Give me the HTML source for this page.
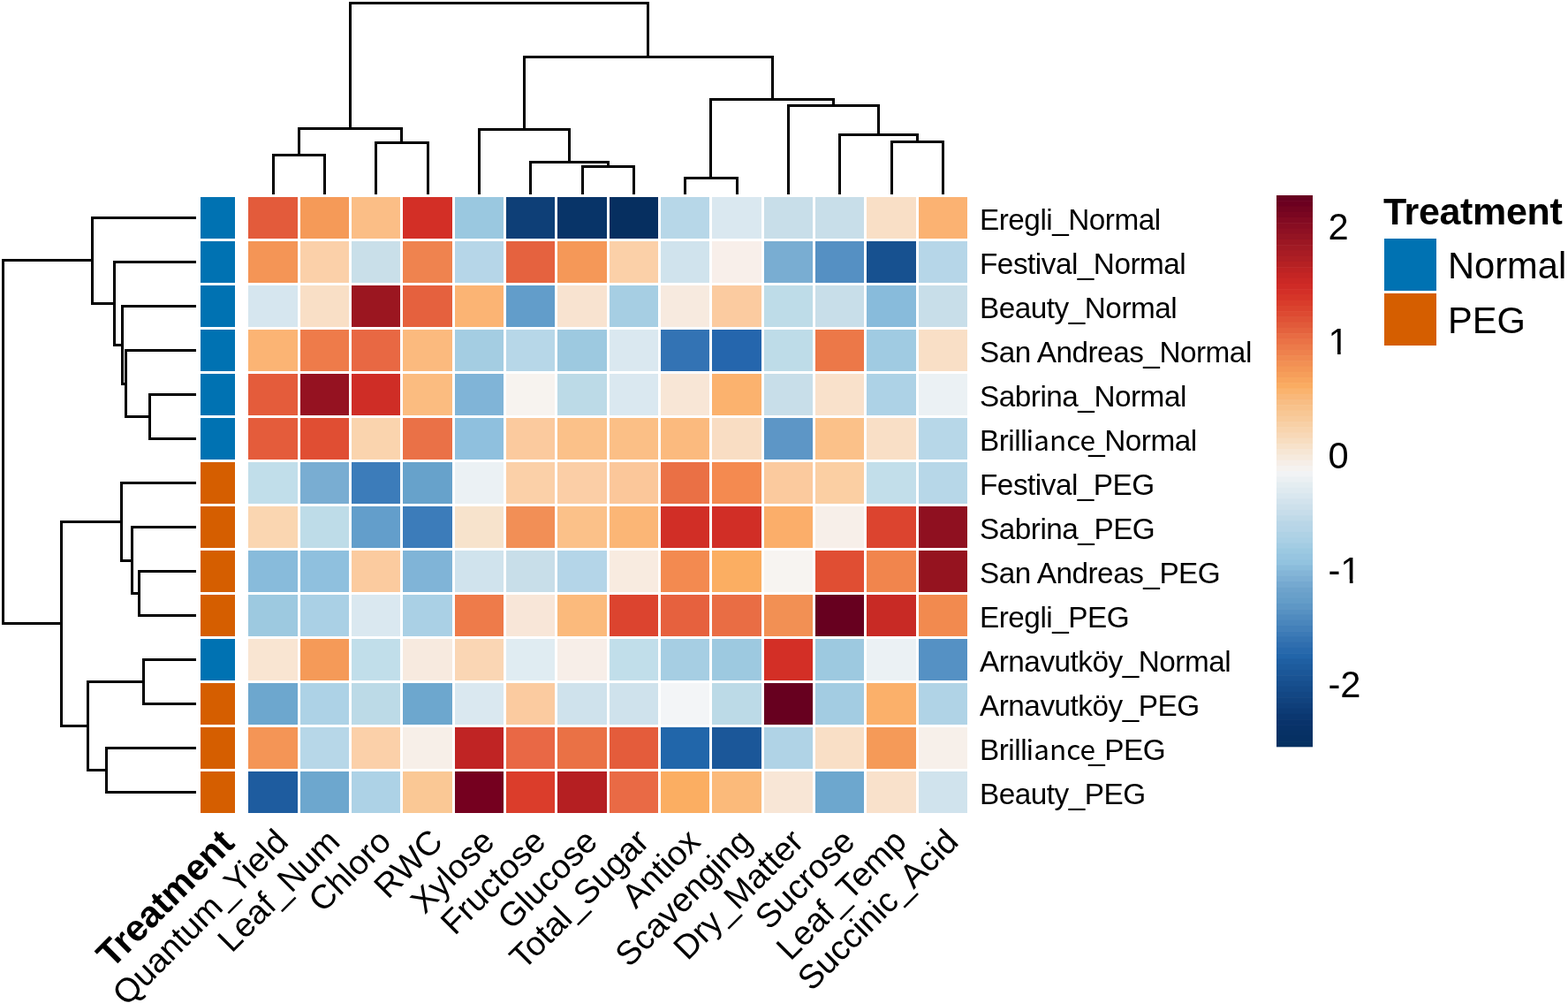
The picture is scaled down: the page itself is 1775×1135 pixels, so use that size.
<!DOCTYPE html><html><head><meta charset="utf-8"><title>heatmap</title><style>html,body{margin:0;padding:0;background:#fff;overflow:hidden;}svg{display:block;}</style></head><body>
<svg width="1775" height="1135" viewBox="0 0 1775 1135">
<rect width="1775" height="1135" fill="#fff"/>
<g shape-rendering="crispEdges">
<rect x="281" y="223" width="56" height="47" fill="#E35B3B"/>
<rect x="340" y="223" width="55" height="47" fill="#F59A58"/>
<rect x="398" y="223" width="55" height="47" fill="#FBBE86"/>
<rect x="456" y="223" width="56" height="47" fill="#D32F26"/>
<rect x="515" y="223" width="55" height="47" fill="#9AC8E0"/>
<rect x="573" y="223" width="55" height="47" fill="#0E3F77"/>
<rect x="631" y="223" width="56" height="47" fill="#083468"/>
<rect x="690" y="223" width="55" height="47" fill="#062F60"/>
<rect x="748" y="223" width="55" height="47" fill="#B7D7E8"/>
<rect x="806" y="223" width="56" height="47" fill="#DAE8F0"/>
<rect x="865" y="223" width="55" height="47" fill="#C8DEE9"/>
<rect x="923" y="223" width="55" height="47" fill="#C8DEE9"/>
<rect x="981" y="223" width="56" height="47" fill="#F9DFC6"/>
<rect x="1040" y="223" width="55" height="47" fill="#FBB272"/>
<rect x="281" y="273" width="56" height="47" fill="#F49556"/>
<rect x="340" y="273" width="55" height="47" fill="#FBD0A9"/>
<rect x="398" y="273" width="55" height="47" fill="#C9DFE9"/>
<rect x="456" y="273" width="56" height="47" fill="#EF834F"/>
<rect x="515" y="273" width="55" height="47" fill="#B6D6E8"/>
<rect x="573" y="273" width="55" height="47" fill="#E5623F"/>
<rect x="631" y="273" width="56" height="47" fill="#F59858"/>
<rect x="690" y="273" width="55" height="47" fill="#FBD0A8"/>
<rect x="748" y="273" width="55" height="47" fill="#D0E3ED"/>
<rect x="806" y="273" width="56" height="47" fill="#F8EFEA"/>
<rect x="865" y="273" width="55" height="47" fill="#79ADD2"/>
<rect x="923" y="273" width="55" height="47" fill="#5590C3"/>
<rect x="981" y="273" width="56" height="47" fill="#175190"/>
<rect x="1040" y="273" width="55" height="47" fill="#B6D6E8"/>
<rect x="281" y="323" width="56" height="47" fill="#D6E6EF"/>
<rect x="340" y="323" width="55" height="47" fill="#F9DFC6"/>
<rect x="398" y="323" width="55" height="47" fill="#9B1620"/>
<rect x="456" y="323" width="56" height="47" fill="#E5613E"/>
<rect x="515" y="323" width="55" height="47" fill="#FBB474"/>
<rect x="573" y="323" width="55" height="47" fill="#629DCA"/>
<rect x="631" y="323" width="56" height="47" fill="#F8E3D0"/>
<rect x="690" y="323" width="55" height="47" fill="#A6CEE3"/>
<rect x="748" y="323" width="55" height="47" fill="#F7EADF"/>
<rect x="806" y="323" width="56" height="47" fill="#FBCBA0"/>
<rect x="865" y="323" width="55" height="47" fill="#BEDCE8"/>
<rect x="923" y="323" width="55" height="47" fill="#C8DEE9"/>
<rect x="981" y="323" width="56" height="47" fill="#88BBDB"/>
<rect x="1040" y="323" width="55" height="47" fill="#C8DEE9"/>
<rect x="281" y="373" width="56" height="47" fill="#FBB474"/>
<rect x="340" y="373" width="55" height="47" fill="#EE7B4A"/>
<rect x="398" y="373" width="55" height="47" fill="#E86843"/>
<rect x="456" y="373" width="56" height="47" fill="#FBBA7E"/>
<rect x="515" y="373" width="55" height="47" fill="#A4CDE2"/>
<rect x="573" y="373" width="55" height="47" fill="#B7D7E8"/>
<rect x="631" y="373" width="56" height="47" fill="#9DC9E0"/>
<rect x="690" y="373" width="55" height="47" fill="#DAE8F0"/>
<rect x="748" y="373" width="55" height="47" fill="#3373B4"/>
<rect x="806" y="373" width="56" height="47" fill="#2566AD"/>
<rect x="865" y="373" width="55" height="47" fill="#BEDCE8"/>
<rect x="923" y="373" width="55" height="47" fill="#EC7848"/>
<rect x="981" y="373" width="56" height="47" fill="#A0CBE2"/>
<rect x="1040" y="373" width="55" height="47" fill="#F9DFC6"/>
<rect x="281" y="423" width="56" height="47" fill="#E45C3B"/>
<rect x="340" y="423" width="55" height="47" fill="#951221"/>
<rect x="398" y="423" width="55" height="47" fill="#CF2D26"/>
<rect x="456" y="423" width="56" height="47" fill="#FBBC80"/>
<rect x="515" y="423" width="55" height="47" fill="#80B4D7"/>
<rect x="573" y="423" width="55" height="47" fill="#F7F3EF"/>
<rect x="631" y="423" width="56" height="47" fill="#BCDAE7"/>
<rect x="690" y="423" width="55" height="47" fill="#DAE8F0"/>
<rect x="748" y="423" width="55" height="47" fill="#F8E6D6"/>
<rect x="806" y="423" width="56" height="47" fill="#FBB26E"/>
<rect x="865" y="423" width="55" height="47" fill="#C8DEE9"/>
<rect x="923" y="423" width="55" height="47" fill="#F9E1CB"/>
<rect x="981" y="423" width="56" height="47" fill="#ADD2E6"/>
<rect x="1040" y="423" width="55" height="47" fill="#EBF1F4"/>
<rect x="281" y="473" width="56" height="47" fill="#E45C3B"/>
<rect x="340" y="473" width="55" height="47" fill="#E04E33"/>
<rect x="398" y="473" width="55" height="47" fill="#FAD4AE"/>
<rect x="456" y="473" width="56" height="47" fill="#EA7147"/>
<rect x="515" y="473" width="55" height="47" fill="#8FC0DE"/>
<rect x="573" y="473" width="55" height="47" fill="#FBCA9E"/>
<rect x="631" y="473" width="56" height="47" fill="#FBC189"/>
<rect x="690" y="473" width="55" height="47" fill="#FBBF86"/>
<rect x="748" y="473" width="55" height="47" fill="#FBBA7E"/>
<rect x="806" y="473" width="56" height="47" fill="#F9DDC3"/>
<rect x="865" y="473" width="55" height="47" fill="#5D96C6"/>
<rect x="923" y="473" width="55" height="47" fill="#FBC189"/>
<rect x="981" y="473" width="56" height="47" fill="#F9DFC6"/>
<rect x="1040" y="473" width="55" height="47" fill="#B7D7E8"/>
<rect x="281" y="523" width="56" height="47" fill="#C1DEEA"/>
<rect x="340" y="523" width="55" height="47" fill="#79ADD2"/>
<rect x="398" y="523" width="55" height="47" fill="#3C7CBA"/>
<rect x="456" y="523" width="56" height="47" fill="#67A2CB"/>
<rect x="515" y="523" width="55" height="47" fill="#EBF1F4"/>
<rect x="573" y="523" width="55" height="47" fill="#FBD0A8"/>
<rect x="631" y="523" width="56" height="47" fill="#FBCEA6"/>
<rect x="690" y="523" width="55" height="47" fill="#FBC79A"/>
<rect x="748" y="523" width="55" height="47" fill="#EA7045"/>
<rect x="806" y="523" width="56" height="47" fill="#F48A50"/>
<rect x="865" y="523" width="55" height="47" fill="#FBCA9E"/>
<rect x="923" y="523" width="55" height="47" fill="#FBCFA3"/>
<rect x="981" y="523" width="56" height="47" fill="#C2DEEA"/>
<rect x="1040" y="523" width="55" height="47" fill="#B7D7E8"/>
<rect x="281" y="573" width="56" height="47" fill="#FAD6B1"/>
<rect x="340" y="573" width="55" height="47" fill="#BEDCE8"/>
<rect x="398" y="573" width="55" height="47" fill="#639ECB"/>
<rect x="456" y="573" width="56" height="47" fill="#3C7CBA"/>
<rect x="515" y="573" width="55" height="47" fill="#F7E3CC"/>
<rect x="573" y="573" width="55" height="47" fill="#F28F56"/>
<rect x="631" y="573" width="56" height="47" fill="#FBC189"/>
<rect x="690" y="573" width="55" height="47" fill="#FBB676"/>
<rect x="748" y="573" width="55" height="47" fill="#D12E26"/>
<rect x="806" y="573" width="56" height="47" fill="#D12E26"/>
<rect x="865" y="573" width="55" height="47" fill="#FBAE6A"/>
<rect x="923" y="573" width="55" height="47" fill="#F7EFE9"/>
<rect x="981" y="573" width="56" height="47" fill="#DC442F"/>
<rect x="1040" y="573" width="55" height="47" fill="#8F1020"/>
<rect x="281" y="623" width="56" height="47" fill="#88BBDB"/>
<rect x="340" y="623" width="55" height="47" fill="#8FC0DE"/>
<rect x="398" y="623" width="55" height="47" fill="#FBCB9F"/>
<rect x="456" y="623" width="56" height="47" fill="#80B4D7"/>
<rect x="515" y="623" width="55" height="47" fill="#D0E3ED"/>
<rect x="573" y="623" width="55" height="47" fill="#C8DEE9"/>
<rect x="631" y="623" width="56" height="47" fill="#B4D5E8"/>
<rect x="690" y="623" width="55" height="47" fill="#F8EBE0"/>
<rect x="748" y="623" width="55" height="47" fill="#F38A50"/>
<rect x="806" y="623" width="56" height="47" fill="#FBAE62"/>
<rect x="865" y="623" width="55" height="47" fill="#F7F4F1"/>
<rect x="923" y="623" width="55" height="47" fill="#E04E33"/>
<rect x="981" y="623" width="56" height="47" fill="#F1854D"/>
<rect x="1040" y="623" width="55" height="47" fill="#95131F"/>
<rect x="281" y="673" width="56" height="47" fill="#9DC9E0"/>
<rect x="340" y="673" width="55" height="47" fill="#AAD0E5"/>
<rect x="398" y="673" width="55" height="47" fill="#DAE8F0"/>
<rect x="456" y="673" width="56" height="47" fill="#AAD0E5"/>
<rect x="515" y="673" width="55" height="47" fill="#EE7B4A"/>
<rect x="573" y="673" width="55" height="47" fill="#F8E6D8"/>
<rect x="631" y="673" width="56" height="47" fill="#FBBA7C"/>
<rect x="690" y="673" width="55" height="47" fill="#DC442F"/>
<rect x="748" y="673" width="55" height="47" fill="#E6613E"/>
<rect x="806" y="673" width="56" height="47" fill="#E96D44"/>
<rect x="865" y="673" width="55" height="47" fill="#F29054"/>
<rect x="923" y="673" width="55" height="47" fill="#67001F"/>
<rect x="981" y="673" width="56" height="47" fill="#C82A25"/>
<rect x="1040" y="673" width="55" height="47" fill="#F28A4F"/>
<rect x="281" y="723" width="56" height="47" fill="#F9E5D2"/>
<rect x="340" y="723" width="55" height="47" fill="#F59A58"/>
<rect x="398" y="723" width="55" height="47" fill="#C1DEEA"/>
<rect x="456" y="723" width="56" height="47" fill="#F7EADF"/>
<rect x="515" y="723" width="55" height="47" fill="#FAD6B4"/>
<rect x="573" y="723" width="55" height="47" fill="#E0ECF2"/>
<rect x="631" y="723" width="56" height="47" fill="#F7EEE8"/>
<rect x="690" y="723" width="55" height="47" fill="#C1DEEA"/>
<rect x="748" y="723" width="55" height="47" fill="#A6CEE3"/>
<rect x="806" y="723" width="56" height="47" fill="#9DC9E0"/>
<rect x="865" y="723" width="55" height="47" fill="#D32F26"/>
<rect x="923" y="723" width="55" height="47" fill="#9DC9E0"/>
<rect x="981" y="723" width="56" height="47" fill="#EBF1F4"/>
<rect x="1040" y="723" width="55" height="47" fill="#5591C4"/>
<rect x="281" y="773" width="56" height="47" fill="#6DA7CE"/>
<rect x="340" y="773" width="55" height="47" fill="#ADD2E6"/>
<rect x="398" y="773" width="55" height="47" fill="#BCDAE7"/>
<rect x="456" y="773" width="56" height="47" fill="#6DA7CE"/>
<rect x="515" y="773" width="55" height="47" fill="#DAE8F0"/>
<rect x="573" y="773" width="55" height="47" fill="#FBCBA0"/>
<rect x="631" y="773" width="56" height="47" fill="#CFE2EC"/>
<rect x="690" y="773" width="55" height="47" fill="#CFE2EC"/>
<rect x="748" y="773" width="55" height="47" fill="#F3F5F7"/>
<rect x="806" y="773" width="56" height="47" fill="#BCDAE7"/>
<rect x="865" y="773" width="55" height="47" fill="#67001F"/>
<rect x="923" y="773" width="55" height="47" fill="#A3CCE2"/>
<rect x="981" y="773" width="56" height="47" fill="#FBB06A"/>
<rect x="1040" y="773" width="55" height="47" fill="#B0D3E6"/>
<rect x="281" y="823" width="56" height="47" fill="#F49556"/>
<rect x="340" y="823" width="55" height="47" fill="#B7D7E8"/>
<rect x="398" y="823" width="55" height="47" fill="#FBD0A9"/>
<rect x="456" y="823" width="56" height="47" fill="#F7EFE8"/>
<rect x="515" y="823" width="55" height="47" fill="#C02424"/>
<rect x="573" y="823" width="55" height="47" fill="#E96845"/>
<rect x="631" y="823" width="56" height="47" fill="#EA7145"/>
<rect x="690" y="823" width="55" height="47" fill="#E45C3B"/>
<rect x="748" y="823" width="55" height="47" fill="#2166AA"/>
<rect x="806" y="823" width="56" height="47" fill="#1B5799"/>
<rect x="865" y="823" width="55" height="47" fill="#B0D3E6"/>
<rect x="923" y="823" width="55" height="47" fill="#F9DFC6"/>
<rect x="981" y="823" width="56" height="47" fill="#F59A58"/>
<rect x="1040" y="823" width="55" height="47" fill="#F7F0EA"/>
<rect x="281" y="873" width="56" height="47" fill="#1E5C9F"/>
<rect x="340" y="873" width="55" height="47" fill="#6DA7CE"/>
<rect x="398" y="873" width="55" height="47" fill="#ADD2E6"/>
<rect x="456" y="873" width="56" height="47" fill="#FAC895"/>
<rect x="515" y="873" width="55" height="47" fill="#75001F"/>
<rect x="573" y="873" width="55" height="47" fill="#DB3D2B"/>
<rect x="631" y="873" width="56" height="47" fill="#B51F22"/>
<rect x="690" y="873" width="55" height="47" fill="#E96A45"/>
<rect x="748" y="873" width="55" height="47" fill="#FBAE62"/>
<rect x="806" y="873" width="56" height="47" fill="#FBBA7A"/>
<rect x="865" y="873" width="55" height="47" fill="#F8E6D6"/>
<rect x="923" y="873" width="55" height="47" fill="#6DA7CE"/>
<rect x="981" y="873" width="56" height="47" fill="#F9E1CB"/>
<rect x="1040" y="873" width="55" height="47" fill="#D0E3ED"/>
<rect x="227" y="223" width="39" height="47" fill="#0072B2"/>
<rect x="227" y="273" width="39" height="47" fill="#0072B2"/>
<rect x="227" y="323" width="39" height="47" fill="#0072B2"/>
<rect x="227" y="373" width="39" height="47" fill="#0072B2"/>
<rect x="227" y="423" width="39" height="47" fill="#0072B2"/>
<rect x="227" y="473" width="39" height="47" fill="#0072B2"/>
<rect x="227" y="523" width="39" height="47" fill="#D55E00"/>
<rect x="227" y="573" width="39" height="47" fill="#D55E00"/>
<rect x="227" y="623" width="39" height="47" fill="#D55E00"/>
<rect x="227" y="673" width="39" height="47" fill="#D55E00"/>
<rect x="227" y="723" width="39" height="47" fill="#0072B2"/>
<rect x="227" y="773" width="39" height="47" fill="#D55E00"/>
<rect x="227" y="823" width="39" height="47" fill="#D55E00"/>
<rect x="227" y="873" width="39" height="47" fill="#D55E00"/>
</g>
<path d="M309.5,220V175.5H367.5V220 M425.5,220V161.5H484.5V220 M338.5,175.5V145.5H454.5V161.5 M659.5,220V188.5H717.5V220 M600.5,220V183.5H688.5V188.5 M542.5,220V146.5H644.5V183.5 M775.5,220V201.5H834.5V220 M1009.5,220V160.5H1067.5V220 M950.5,220V152.5H1038.5V160.5 M892.5,220V119.5H994.5V152.5 M804.5,201.5V112.5H943.5V119.5 M593.5,146.5V64.5H874.5V112.5 M396.5,145.5V3.5H733.5V64.5 M222.0,446.5H169.5V496.5H222.0 M222.0,396.5H142.5V471.5H169.5 M222.0,346.5H138.5V434.5H142.5 M222.0,296.5H129.5V390.5H138.5 M222.0,246.5H104.5V343.5H129.5 M222.0,646.5H157.5V696.5H222.0 M222.0,596.5H149.5V671.5H157.5 M222.0,546.5H137.5V634.5H149.5 M222.0,746.5H162.5V796.5H222.0 M222.0,846.5H120.5V896.5H222.0 M162.5,771.5H99.5V871.5H120.5 M137.5,590.5H69.5V821.5H99.5 M104.5,294.5H3.5V705.5H69.5" fill="none" stroke="#000" stroke-width="3" stroke-linejoin="miter" stroke-linecap="butt" shape-rendering="crispEdges"/>
<text x="1109" y="260.05" font-family="Liberation Sans, Arial, sans-serif" font-size="33.33" letter-spacing="-0.5">Eregli_Normal</text>
<text x="1109" y="310.05" font-family="Liberation Sans, Arial, sans-serif" font-size="33.33" letter-spacing="-0.5">Festival_Normal</text>
<text x="1109" y="360.05" font-family="Liberation Sans, Arial, sans-serif" font-size="33.33" letter-spacing="-0.5">Beauty_Normal</text>
<text x="1109" y="410.05" font-family="Liberation Sans, Arial, sans-serif" font-size="33.33" letter-spacing="-0.5">San Andreas_Normal</text>
<text x="1109" y="460.05" font-family="Liberation Sans, Arial, sans-serif" font-size="33.33" letter-spacing="-0.5">Sabrina_Normal</text>
<text x="1109" y="510.05" font-family="Liberation Sans, Arial, sans-serif" font-size="33.33" letter-spacing="-0.5">Brill<tspan x="1161.6" font-family="Noto Sans CJK JP, sans-serif" font-size="31.5" letter-spacing="0">iance</tspan><tspan x="1232.2">_Normal</tspan></text>
<text x="1109" y="560.05" font-family="Liberation Sans, Arial, sans-serif" font-size="33.33" letter-spacing="-0.5">Festival_PEG</text>
<text x="1109" y="610.05" font-family="Liberation Sans, Arial, sans-serif" font-size="33.33" letter-spacing="-0.5">Sabrina_PEG</text>
<text x="1109" y="660.05" font-family="Liberation Sans, Arial, sans-serif" font-size="33.33" letter-spacing="-0.5">San Andreas_PEG</text>
<text x="1109" y="710.05" font-family="Liberation Sans, Arial, sans-serif" font-size="33.33" letter-spacing="-0.5">Eregli_PEG</text>
<text x="1109" y="760.05" font-family="Liberation Sans, Arial, sans-serif" font-size="33.33" letter-spacing="-0.5">Arnavutköy_Normal</text>
<text x="1109" y="810.05" font-family="Liberation Sans, Arial, sans-serif" font-size="33.33" letter-spacing="-0.5">Arnavutköy_PEG</text>
<text x="1109" y="860.05" font-family="Liberation Sans, Arial, sans-serif" font-size="33.33" letter-spacing="-0.5">Brill<tspan x="1161.6" font-family="Noto Sans CJK JP, sans-serif" font-size="31.5" letter-spacing="0">iance</tspan><tspan x="1232.2">_PEG</tspan></text>
<text x="1109" y="910.05" font-family="Liberation Sans, Arial, sans-serif" font-size="33.33" letter-spacing="-0.5">Beauty_PEG</text>
<text transform="translate(246.28,935.20) rotate(-45)" x="0" y="29.84" text-anchor="end" font-family="Liberation Sans, Arial, sans-serif" font-size="41.67" font-weight="bold" letter-spacing="0">Treatment</text>
<text transform="translate(309.00,935.20) rotate(-45)" x="0" y="27.35" text-anchor="end" font-family="Liberation Sans, Arial, sans-serif" font-size="38.2" letter-spacing="0">Quantum_Yield</text>
<text transform="translate(367.50,935.20) rotate(-45)" x="0" y="27.35" text-anchor="end" font-family="Liberation Sans, Arial, sans-serif" font-size="38.2" letter-spacing="0">Leaf_Num</text>
<text transform="translate(425.50,935.20) rotate(-45)" x="0" y="27.35" text-anchor="end" font-family="Liberation Sans, Arial, sans-serif" font-size="38.2" letter-spacing="0">Chloro</text>
<text transform="translate(484.00,935.20) rotate(-45)" x="0" y="27.35" text-anchor="end" font-family="Liberation Sans, Arial, sans-serif" font-size="38.2" letter-spacing="0">RWC</text>
<text transform="translate(542.50,935.20) rotate(-45)" x="0" y="27.35" text-anchor="end" font-family="Liberation Sans, Arial, sans-serif" font-size="38.2" letter-spacing="0">Xylose</text>
<text transform="translate(600.50,935.20) rotate(-45)" x="0" y="27.35" text-anchor="end" font-family="Liberation Sans, Arial, sans-serif" font-size="38.2" letter-spacing="0">Fructose</text>
<text transform="translate(659.00,935.20) rotate(-45)" x="0" y="27.35" text-anchor="end" font-family="Liberation Sans, Arial, sans-serif" font-size="38.2" letter-spacing="0">Glucose</text>
<text transform="translate(717.50,935.20) rotate(-45)" x="0" y="27.35" text-anchor="end" font-family="Liberation Sans, Arial, sans-serif" font-size="38.2" letter-spacing="0">Total_Sugar</text>
<text transform="translate(775.50,935.20) rotate(-45)" x="0" y="27.35" text-anchor="end" font-family="Liberation Sans, Arial, sans-serif" font-size="38.2" letter-spacing="0">Antiox</text>
<text transform="translate(834.00,935.20) rotate(-45)" x="0" y="27.35" text-anchor="end" font-family="Liberation Sans, Arial, sans-serif" font-size="38.2" letter-spacing="0">Scavenging</text>
<text transform="translate(892.50,935.20) rotate(-45)" x="0" y="27.35" text-anchor="end" font-family="Liberation Sans, Arial, sans-serif" font-size="38.2" letter-spacing="0">Dry_Matter</text>
<text transform="translate(950.50,935.20) rotate(-45)" x="0" y="27.35" text-anchor="end" font-family="Liberation Sans, Arial, sans-serif" font-size="38.2" letter-spacing="0">Sucrose</text>
<text transform="translate(1009.00,935.20) rotate(-45)" x="0" y="27.35" text-anchor="end" font-family="Liberation Sans, Arial, sans-serif" font-size="38.2" letter-spacing="0">Leaf_Temp</text>
<text transform="translate(1067.50,935.20) rotate(-45)" x="0" y="27.35" text-anchor="end" font-family="Liberation Sans, Arial, sans-serif" font-size="38.2" letter-spacing="0">Succinic_Acid</text>
<rect x="1445" y="221.00" width="41" height="6.84" fill="#67001F"/>
<rect x="1445" y="227.24" width="41" height="6.84" fill="#6C0020"/>
<rect x="1445" y="233.49" width="41" height="6.84" fill="#730420"/>
<rect x="1445" y="239.73" width="41" height="6.84" fill="#7A0621"/>
<rect x="1445" y="245.97" width="41" height="6.84" fill="#820A22"/>
<rect x="1445" y="252.22" width="41" height="6.84" fill="#880D22"/>
<rect x="1445" y="258.46" width="41" height="6.84" fill="#8E1023"/>
<rect x="1445" y="264.70" width="41" height="6.84" fill="#941423"/>
<rect x="1445" y="270.94" width="41" height="6.84" fill="#9B1723"/>
<rect x="1445" y="277.19" width="41" height="6.84" fill="#A11A24"/>
<rect x="1445" y="283.43" width="41" height="6.84" fill="#A81C24"/>
<rect x="1445" y="289.67" width="41" height="6.84" fill="#AE1F24"/>
<rect x="1445" y="295.92" width="41" height="6.84" fill="#B52123"/>
<rect x="1445" y="302.16" width="41" height="6.84" fill="#BD2324"/>
<rect x="1445" y="308.40" width="41" height="6.84" fill="#C42524"/>
<rect x="1445" y="314.64" width="41" height="6.84" fill="#CA2825"/>
<rect x="1445" y="320.89" width="41" height="6.84" fill="#CF2B26"/>
<rect x="1445" y="327.13" width="41" height="6.84" fill="#D32F27"/>
<rect x="1445" y="333.37" width="41" height="6.84" fill="#D63528"/>
<rect x="1445" y="339.62" width="41" height="6.84" fill="#D93C2B"/>
<rect x="1445" y="345.86" width="41" height="6.84" fill="#DB432E"/>
<rect x="1445" y="352.10" width="41" height="6.84" fill="#DD4A32"/>
<rect x="1445" y="358.35" width="41" height="6.84" fill="#DF5236"/>
<rect x="1445" y="364.59" width="41" height="6.84" fill="#E15A3A"/>
<rect x="1445" y="370.83" width="41" height="6.84" fill="#E4623E"/>
<rect x="1445" y="377.08" width="41" height="6.84" fill="#E86B43"/>
<rect x="1445" y="383.32" width="41" height="6.84" fill="#EA7246"/>
<rect x="1445" y="389.56" width="41" height="6.84" fill="#EC7A4A"/>
<rect x="1445" y="395.80" width="41" height="6.84" fill="#EE814D"/>
<rect x="1445" y="402.05" width="41" height="6.84" fill="#F08950"/>
<rect x="1445" y="408.29" width="41" height="6.84" fill="#F29054"/>
<rect x="1445" y="414.53" width="41" height="6.84" fill="#F49756"/>
<rect x="1445" y="420.78" width="41" height="6.84" fill="#F69E5A"/>
<rect x="1445" y="427.02" width="41" height="6.84" fill="#F8A55E"/>
<rect x="1445" y="433.26" width="41" height="6.84" fill="#FAAC62"/>
<rect x="1445" y="439.50" width="41" height="6.84" fill="#FAB36E"/>
<rect x="1445" y="445.75" width="41" height="6.84" fill="#F9B87A"/>
<rect x="1445" y="451.99" width="41" height="6.84" fill="#F8BD84"/>
<rect x="1445" y="458.23" width="41" height="6.84" fill="#F8C28C"/>
<rect x="1445" y="464.48" width="41" height="6.84" fill="#F8C794"/>
<rect x="1445" y="470.72" width="41" height="6.84" fill="#F8CB9C"/>
<rect x="1445" y="476.96" width="41" height="6.84" fill="#F8D0A6"/>
<rect x="1445" y="483.21" width="41" height="6.84" fill="#F8D4AE"/>
<rect x="1445" y="489.45" width="41" height="6.84" fill="#F8D8B7"/>
<rect x="1445" y="495.69" width="41" height="6.84" fill="#F7DDC0"/>
<rect x="1445" y="501.94" width="41" height="6.84" fill="#F7E2CA"/>
<rect x="1445" y="508.18" width="41" height="6.84" fill="#F6E6D4"/>
<rect x="1445" y="514.42" width="41" height="6.84" fill="#F6EADD"/>
<rect x="1445" y="520.66" width="41" height="6.84" fill="#F6EEE7"/>
<rect x="1445" y="526.91" width="41" height="6.84" fill="#F5F2EF"/>
<rect x="1445" y="533.15" width="41" height="6.84" fill="#F1F3F5"/>
<rect x="1445" y="539.39" width="41" height="6.84" fill="#EBF0F3"/>
<rect x="1445" y="545.64" width="41" height="6.84" fill="#E4EDF1"/>
<rect x="1445" y="551.88" width="41" height="6.84" fill="#DFEAF0"/>
<rect x="1445" y="558.12" width="41" height="6.84" fill="#D9E7EF"/>
<rect x="1445" y="564.37" width="41" height="6.84" fill="#D3E3ED"/>
<rect x="1445" y="570.61" width="41" height="6.84" fill="#CDE0EB"/>
<rect x="1445" y="576.85" width="41" height="6.84" fill="#C7DDEA"/>
<rect x="1445" y="583.09" width="41" height="6.84" fill="#C0DAE8"/>
<rect x="1445" y="589.34" width="41" height="6.84" fill="#B9D6E7"/>
<rect x="1445" y="595.58" width="41" height="6.84" fill="#B6D5E7"/>
<rect x="1445" y="601.82" width="41" height="6.84" fill="#AFD2E5"/>
<rect x="1445" y="608.07" width="41" height="6.84" fill="#AAD0E5"/>
<rect x="1445" y="614.31" width="41" height="6.84" fill="#A3CCE3"/>
<rect x="1445" y="620.55" width="41" height="6.84" fill="#9CC9E1"/>
<rect x="1445" y="626.80" width="41" height="6.84" fill="#97C5E0"/>
<rect x="1445" y="633.04" width="41" height="6.84" fill="#92C3DF"/>
<rect x="1445" y="639.28" width="41" height="6.84" fill="#8ABCDB"/>
<rect x="1445" y="645.52" width="41" height="6.84" fill="#84B5D7"/>
<rect x="1445" y="651.77" width="41" height="6.84" fill="#7DAFD4"/>
<rect x="1445" y="658.01" width="41" height="6.84" fill="#75A9D0"/>
<rect x="1445" y="664.25" width="41" height="6.84" fill="#6EA3CC"/>
<rect x="1445" y="670.50" width="41" height="6.84" fill="#69A0CA"/>
<rect x="1445" y="676.74" width="41" height="6.84" fill="#649DC8"/>
<rect x="1445" y="682.98" width="41" height="6.84" fill="#5E97C5"/>
<rect x="1445" y="689.23" width="41" height="6.84" fill="#5791C2"/>
<rect x="1445" y="695.47" width="41" height="6.84" fill="#508BBF"/>
<rect x="1445" y="701.71" width="41" height="6.84" fill="#4A86BC"/>
<rect x="1445" y="707.95" width="41" height="6.84" fill="#4380B9"/>
<rect x="1445" y="714.20" width="41" height="6.84" fill="#3C7AB6"/>
<rect x="1445" y="720.44" width="41" height="6.84" fill="#3574B2"/>
<rect x="1445" y="726.68" width="41" height="6.84" fill="#2F6EAF"/>
<rect x="1445" y="732.93" width="41" height="6.84" fill="#2869AC"/>
<rect x="1445" y="739.17" width="41" height="6.84" fill="#2265A9"/>
<rect x="1445" y="745.41" width="41" height="6.84" fill="#1F5FA2"/>
<rect x="1445" y="751.65" width="41" height="6.84" fill="#1D5B9D"/>
<rect x="1445" y="757.90" width="41" height="6.84" fill="#1B5798"/>
<rect x="1445" y="764.14" width="41" height="6.84" fill="#195393"/>
<rect x="1445" y="770.38" width="41" height="6.84" fill="#174F8E"/>
<rect x="1445" y="776.63" width="41" height="6.84" fill="#154B89"/>
<rect x="1445" y="782.87" width="41" height="6.84" fill="#134784"/>
<rect x="1445" y="789.11" width="41" height="6.84" fill="#11437F"/>
<rect x="1445" y="795.36" width="41" height="6.84" fill="#0F3F7A"/>
<rect x="1445" y="801.60" width="41" height="6.84" fill="#0D3B75"/>
<rect x="1445" y="807.84" width="41" height="6.84" fill="#0B3770"/>
<rect x="1445" y="814.09" width="41" height="6.84" fill="#09336B"/>
<rect x="1445" y="820.33" width="41" height="6.84" fill="#083268"/>
<rect x="1445" y="826.57" width="41" height="6.84" fill="#073165"/>
<rect x="1445" y="832.81" width="41" height="6.84" fill="#063063"/>
<rect x="1445" y="839.06" width="41" height="6.24" fill="#053061"/>
<text x="1503.5" y="271.22" font-family="Liberation Sans, Arial, sans-serif" font-size="41.67">2</text>
<clipPath id="clip1p"><rect x="0" y="0" width="1775" height="396.80"/><rect x="1513.98" y="0" width="3.68" height="1135"/><rect x="1498.5" y="0" width="6.97" height="1135"/></clipPath>
<text x="1503.5" y="400.72" font-family="Liberation Sans, Arial, sans-serif" font-size="41.67" clip-path="url(#clip1p)">1</text>
<text x="1503.5" y="530.22" font-family="Liberation Sans, Arial, sans-serif" font-size="41.67">0</text>
<clipPath id="clip1n"><rect x="0" y="0" width="1775" height="655.80"/><rect x="1527.85" y="0" width="3.68" height="1135"/><rect x="1498.5" y="0" width="20.85" height="1135"/></clipPath>
<text x="1503.5" y="659.72" font-family="Liberation Sans, Arial, sans-serif" font-size="41.67" clip-path="url(#clip1n)">-1</text>
<text x="1503.5" y="789.22" font-family="Liberation Sans, Arial, sans-serif" font-size="41.67">-2</text>
<text x="1566" y="253.8" font-family="Liberation Sans, Arial, sans-serif" font-size="43" font-weight="bold" letter-spacing="-0.35">Treatment</text>
<rect x="1567" y="270" width="59" height="59" fill="#0072B2"/>
<rect x="1567" y="332" width="59" height="59" fill="#D55E00"/>
<text x="1639" y="315" font-family="Liberation Sans, Arial, sans-serif" font-size="41.67">Normal</text>
<text x="1639" y="377" font-family="Liberation Sans, Arial, sans-serif" font-size="41.67">PEG</text>
</svg></body></html>
